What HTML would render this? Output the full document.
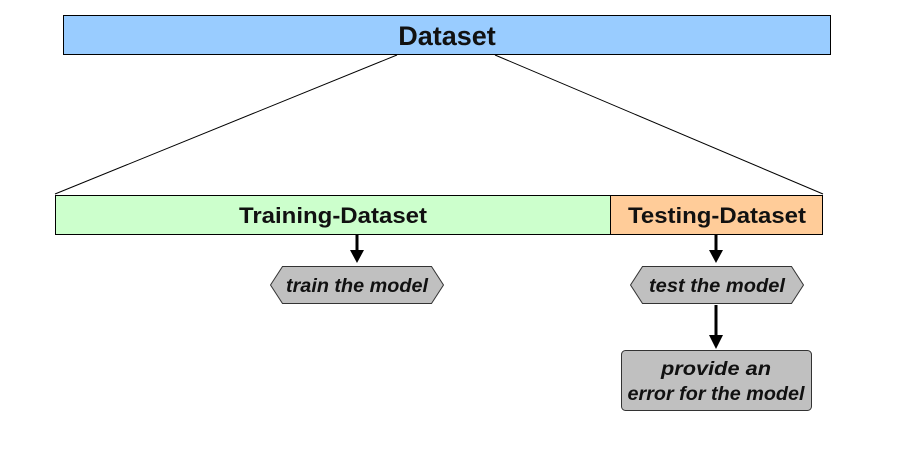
<!DOCTYPE html>
<html><head><meta charset="utf-8"><style>
html,body{margin:0;padding:0;background:#fff;width:912px;height:456px;overflow:hidden}
text{font-family:"Liberation Sans",Arial,sans-serif;font-weight:bold;fill:#111}
</style></head><body>
<svg width="912" height="456" viewBox="0 0 912 456" xmlns="http://www.w3.org/2000/svg">
<rect x="63.5" y="15.5" width="767" height="39" fill="#99ccff" stroke="#000" stroke-width="1"/>
<text x="447" y="45" font-size="27" text-anchor="middle">Dataset</text>
<line x1="397" y1="55" x2="55" y2="194" stroke="#000" stroke-width="1"/>
<line x1="495" y1="55" x2="823" y2="194" stroke="#000" stroke-width="1"/>
<rect x="55.5" y="195.5" width="555" height="39" fill="#ccffcc" stroke="#000"/>
<rect x="610.5" y="195.5" width="212" height="39" fill="#ffcc99" stroke="#000"/>
<text x="333" y="223" font-size="22" text-anchor="middle" textLength="188" lengthAdjust="spacingAndGlyphs">Training-Dataset</text>
<text x="717" y="223" font-size="22" text-anchor="middle" textLength="178" lengthAdjust="spacingAndGlyphs">Testing-Dataset</text>
<line x1="357" y1="235" x2="357" y2="252" stroke="#000" stroke-width="3"/>
<polygon points="350,250 364,250 357,263" fill="#000"/>
<line x1="716" y1="235" x2="716" y2="252" stroke="#000" stroke-width="3"/>
<polygon points="709,250 723,250 716,263" fill="#000"/>
<line x1="716" y1="305" x2="716" y2="337" stroke="#000" stroke-width="3"/>
<polygon points="709,335 723,335 716,349" fill="#000"/>
<polygon points="270.5,285 282.5,266.5 431.5,266.5 443.5,285 431.5,303.5 282.5,303.5" fill="#c0c0c0" stroke="#333"/>
<text x="357" y="292" font-size="19" font-style="italic" text-anchor="middle" textLength="142" lengthAdjust="spacingAndGlyphs">train the model</text>
<polygon points="630.5,285 642.5,266.5 791.5,266.5 803.5,285 791.5,303.5 642.5,303.5" fill="#c0c0c0" stroke="#333"/>
<text x="717" y="292" font-size="19" font-style="italic" text-anchor="middle" textLength="136" lengthAdjust="spacingAndGlyphs">test the model</text>
<rect x="621.5" y="350.5" width="190" height="60" rx="4" fill="#c0c0c0" stroke="#333"/>
<text x="716" y="375" font-size="19" font-style="italic" text-anchor="middle" textLength="110" lengthAdjust="spacingAndGlyphs">provide an</text>
<text x="716" y="400" font-size="19" font-style="italic" text-anchor="middle" textLength="177" lengthAdjust="spacingAndGlyphs">error for the model</text>
</svg>
</body></html>
